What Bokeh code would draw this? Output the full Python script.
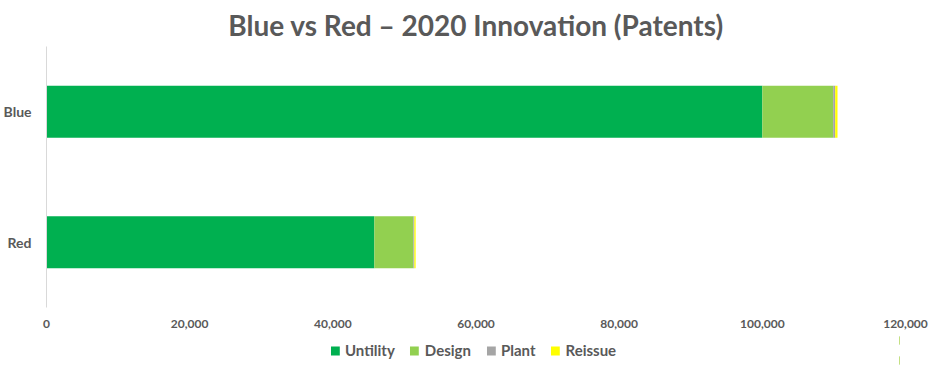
from bokeh.plotting import figure
from bokeh.layouts import column
from bokeh.models import Legend, LegendItem, NumeralTickFormatter, FixedTicker, Range1d
from bokeh.embed import file_html
from bokeh.resources import INLINE

categories = ["Red", "Blue"]
series = ["Untility", "Design", "Plant", "Reissue"]
utility = [45800, 100000]
design = [5450, 9900]
plant = [140, 280]
reissue = [180, 320]
colors = ["#00b050", "#92d050", "#a5a5a5", "#ffff00"]
x_ticks = [0, 20000, 40000, 60000, 80000, 100000, 120000]

data = {"cat": categories, "Untility": utility, "Design": design, "Plant": plant, "Reissue": reissue}

FONT = "Lato"
GREY = "#595959"

p = figure(frame_width=859, frame_height=261, y_range=categories, x_range=Range1d(0, 120000),
           output_backend="svg", toolbar_location=None,
           title="Blue vs Red \u2013 2020 Innovation (Patents)")
p.min_border_left = 40
p.min_border_right = 31
p.min_border_top = 0
p.min_border_bottom = 0

r = p.hbar_stack(series, y="cat", height=0.4, color=colors, source=data, line_width=0)

p.title.align = "center"
p.title.text_font = FONT
p.title.text_font_size = "28px"
p.title.text_font_style = "bold"
p.title.text_color = GREY
p.title.standoff = 10

p.xgrid.visible = False
p.ygrid.visible = False
p.outline_line_color = None

p.xaxis.ticker = FixedTicker(ticks=x_ticks)
p.xaxis.formatter = NumeralTickFormatter(format="0,0")
p.xaxis.axis_line_color = None
p.xaxis.major_tick_line_color = None
p.xaxis.major_tick_out = 0
p.xaxis.major_tick_in = 0
p.xaxis.minor_tick_line_color = None
p.xaxis.major_label_text_font = FONT
p.xaxis.major_label_text_font_size = "12px"
p.xaxis.major_label_text_font_style = "bold"
p.xaxis.major_label_text_color = GREY
p.xaxis.major_label_standoff = 12

p.yaxis.axis_line_color = "#d9d9d9"
p.yaxis.major_tick_line_color = None
p.yaxis.major_tick_out = 0
p.yaxis.major_tick_in = 0
p.yaxis.minor_tick_line_color = None
p.yaxis.major_label_text_font = FONT
p.yaxis.major_label_text_font_size = "14px"
p.yaxis.major_label_text_font_style = "bold"
p.yaxis.major_label_text_color = GREY
p.yaxis.major_label_standoff = 15

# Separate legend strip below the chart
lg = figure(width=930, height=40, y_range=categories, x_range=Range1d(-10, -5),
            output_backend="svg", toolbar_location=None, min_border=0)
lr = lg.hbar_stack(series, y="cat", height=0.4, color=colors, source=data, line_width=0)
lg.axis.visible = False
lg.grid.visible = False
lg.outline_line_color = None

legend = Legend(items=[LegendItem(label=s, renderers=[rr]) for s, rr in zip(series, lr)],
                orientation="horizontal", location="center",
                label_text_font=FONT, label_text_font_size="15px", label_text_font_style="bold",
                label_text_color=GREY, glyph_width=11, glyph_height=11, spacing=14,
                border_line_color=None, background_fill_alpha=0, label_standoff=5,
                padding=4, margin=0)
lg.add_layout(legend, "center")

layout = column(p, lg, spacing=0)
open("out.html", "w").write(file_html(layout, INLINE))
